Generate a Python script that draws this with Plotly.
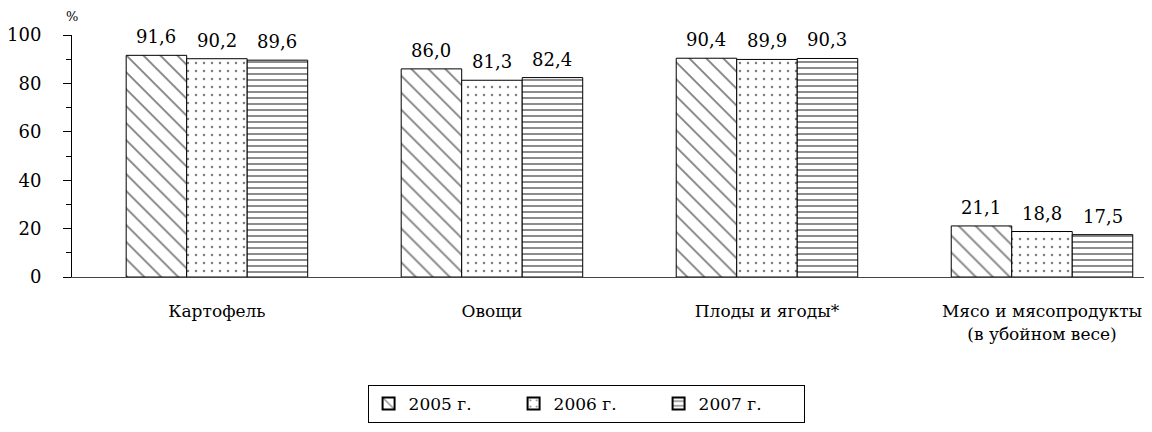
import plotly.graph_objects as go

categories = ["Картофель", "Овощи", "Плоды и ягоды*", "Мясо и мясопродукты<br>(в убойном весе)"]
years = ["2005 г.", "2006 г.", "2007 г."]
v2005 = [91.6, 86.0, 90.4, 21.1]
v2006 = [90.2, 81.3, 89.9, 18.8]
v2007 = [89.6, 82.4, 90.3, 17.5]
y_ticks = [0, 20, 40, 60, 80, 100]

series = [v2005, v2006, v2007]
patterns = [
    dict(shape="\\", size=12, solidity=0.15),
    dict(shape=".", size=8, solidity=0.08),
    dict(shape="-", size=6, solidity=0.3),
]
FONT = "DejaVu Serif"
BARGAP = 0.34
n_series = len(series)
bar_w = (1 - BARGAP) / n_series

fig = go.Figure()
annotations = []
for k, (name, vals, pat) in enumerate(zip(years, series, patterns)):
    fig.add_trace(go.Bar(
        name=name,
        x=list(range(len(categories))),
        y=vals,
        marker=dict(
            color="white",
            line=dict(color="black", width=1),
            pattern=dict(fgcolor="black", bgcolor="white", **pat),
        ),
    ))
    off = (k - (n_series - 1) / 2) * bar_w
    for i, v in enumerate(vals):
        annotations.append(dict(
            x=i + off, y=v, xref="x", yref="y",
            text=f"{v:.1f}".replace(".", ","),
            showarrow=False, xanchor="center", yanchor="bottom", yshift=6,
            font=dict(family=FONT, size=18, color="black"),
        ))

annotations.append(dict(text="%", xref="paper", yref="paper", x=0.0, y=1.078,
                        xanchor="center", yanchor="middle", showarrow=False,
                        font=dict(family=FONT, size=13, color="black")))

fig.update_layout(
    width=1144, height=424,
    margin=dict(l=64, r=0, t=27, b=155, autoexpand=False),
    paper_bgcolor="white", plot_bgcolor="white",
    barmode="group", bargap=BARGAP, bargroupgap=0,
    font=dict(family=FONT, size=18, color="black"),
    showlegend=True,
    legend=dict(
        orientation="h", x=0.476, xanchor="center", y=-0.446, yanchor="top",
        bordercolor="black", borderwidth=1, bgcolor="white",
        font=dict(family=FONT, size=17, color="black"),
        entrywidth=100, entrywidthmode="pixels",
        itemsizing="constant",
    ),
    xaxis=dict(
        range=[-0.527, 3.4],
        tickmode="array", tickvals=list(range(len(categories))), ticktext=categories,
        showline=True, linecolor="#444", linewidth=1,
        showgrid=False, zeroline=False, ticks="",
        tickfont=dict(family=FONT, size=17, color="black"),
        ticklabelstandoff=19,
        automargin=False,
    ),
    yaxis=dict(
        range=[0, 100],
        tickmode="array", tickvals=y_ticks, ticktext=[str(t) for t in y_ticks],
        showline=True, linecolor="black", linewidth=1,
        showgrid=False, zeroline=False,
        ticks="outside", ticklen=8, tickcolor="black",
        minor=dict(tickmode="array", tickvals=[10, 30, 50, 70, 90], ticks="outside", ticklen=5, tickcolor="black"),
        tickfont=dict(family=FONT, size=18, color="black"),
        ticklabelstandoff=18,
        automargin=False,
    ),
    annotations=annotations,
)

fig.write_html("out.html")
